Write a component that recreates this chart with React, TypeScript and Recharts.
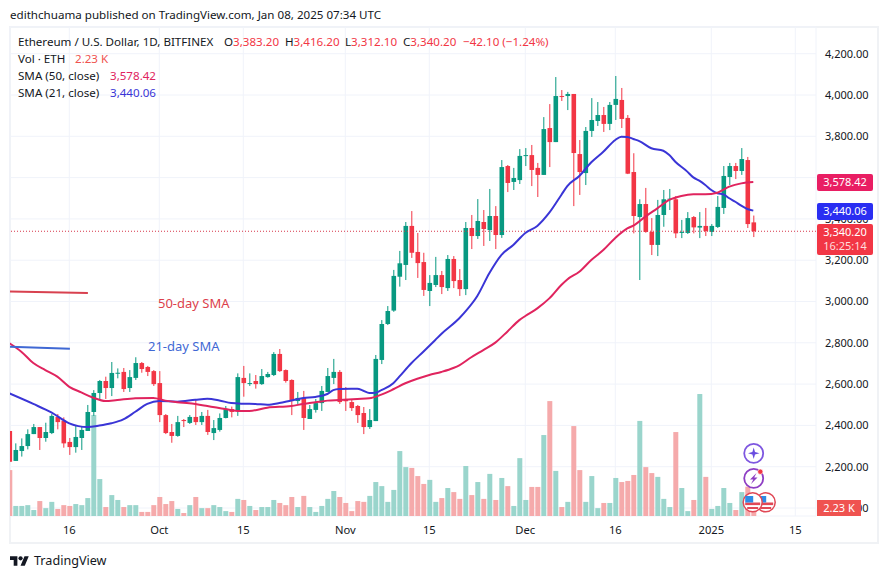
import {
  Bar,
  CartesianGrid,
  ComposedChart,
  Line,
  ReferenceLine,
  XAxis,
  YAxis,
} from "recharts";

// daily candles Sep 6 2024 .. Jan 8 2025 (ETH/USD)
const opens = [
  2373, 2228, 2276, 2300, 2358, 2392, 2339, 2363, 2441, 2423, 2320, 2295, 2339, 2373, 2465, 2557, 2615, 2581, 2652, 2659,
  2581, 2630, 2702, 2683, 2663, 2605, 2450, 2368, 2349, 2426, 2412, 2441, 2416, 2446, 2363, 2378, 2436, 2479, 2470, 2630,
  2602, 2615, 2600, 2634, 2644, 2746, 2668, 2620, 2518, 2533, 2431, 2475, 2508, 2562, 2630, 2659, 2528, 2513, 2494, 2460,
  2392, 2421, 2717, 2891, 2956, 3120, 3177, 3366, 3240, 3191, 3051, 3080, 3128, 3065, 3206, 3104, 3060, 3356, 3317, 3385,
  3346, 3414, 3322, 3656, 3579, 3588, 3706, 3709, 3647, 3613, 3840, 3772, 3995, 3995, 4005, 3714, 3622, 3826, 3874, 3903,
  3860, 3952, 3976, 3889, 3627, 3409, 3472, 3337, 3274, 3419, 3495, 3495, 3333, 3332, 3409, 3358, 3366, 3337, 3361, 3453,
  3603, 3656, 3632, 3685, 3383.2,
];
const highs = [
  2373, 2313, 2337, 2381, 2407, 2392, 2413, 2455, 2455, 2439, 2339, 2397, 2394, 2499, 2571, 2620, 2636, 2707, 2676, 2678,
  2668, 2730, 2707, 2688, 2668, 2663, 2455, 2407, 2446, 2431, 2450, 2523, 2465, 2475, 2426, 2458, 2494, 2491, 2652, 2688,
  2652, 2644, 2673, 2659, 2755, 2770, 2671, 2623, 2562, 2567, 2499, 2528, 2591, 2678, 2722, 2668, 2586, 2528, 2499, 2489,
  2479, 2741, 2910, 2978, 3153, 3245, 3385, 3438, 3332, 3236, 3128, 3216, 3148, 3225, 3220, 3157, 3385, 3419, 3496, 3443,
  3545, 3462, 3685, 3661, 3647, 3738, 3743, 3758, 3671, 3893, 3956, 4087, 4024, 4015, 4005, 3782, 3845, 3985, 3966, 3942,
  3966, 4092, 4034, 3903, 3718, 3495, 3550, 3404, 3492, 3540, 3545, 3511, 3395, 3433, 3414, 3433, 3453, 3375, 3511, 3656,
  3671, 3671, 3743, 3700, 3416.2,
];
const lows = [
  2224, 2228, 2249, 2284, 2358, 2281, 2321, 2358, 2381, 2292, 2257, 2268, 2281, 2373, 2446, 2523, 2528, 2542, 2628, 2562,
  2562, 2620, 2655, 2639, 2591, 2416, 2358, 2316, 2345, 2392, 2407, 2402, 2402, 2354, 2329, 2370, 2434, 2439, 2446, 2539,
  2591, 2578, 2596, 2631, 2639, 2659, 2607, 2450, 2504, 2378, 2431, 2462, 2470, 2562, 2600, 2504, 2470, 2470, 2412, 2358,
  2383, 2421, 2697, 2886, 2950, 3072, 3104, 3211, 3114, 3027, 2978, 3070, 3036, 3051, 3065, 3027, 3031, 3254, 3303, 3269,
  3293, 3254, 3308, 3530, 3540, 3569, 3656, 3559, 3506, 3613, 3651, 3772, 3971, 3927, 3462, 3516, 3564, 3797, 3850, 3821,
  3830, 3879, 3840, 3617, 3330, 3104, 3333, 3225, 3220, 3362, 3443, 3307, 3307, 3327, 3330, 3307, 3317, 3317, 3356, 3424,
  3564, 3593, 3613, 3356, 3312.1,
];
const closes = [
  2224, 2281, 2300, 2358, 2392, 2339, 2368, 2446, 2416, 2313, 2295, 2344, 2378, 2465, 2557, 2615, 2581, 2654, 2655, 2576,
  2634, 2702, 2673, 2659, 2600, 2450, 2363, 2349, 2416, 2421, 2441, 2416, 2446, 2368, 2387, 2436, 2479, 2465, 2634, 2605,
  2605, 2600, 2639, 2649, 2746, 2663, 2615, 2518, 2533, 2436, 2479, 2508, 2567, 2639, 2659, 2513, 2517, 2484, 2450, 2392,
  2426, 2722, 2891, 2954, 3124, 3185, 3366, 3236, 3186, 3056, 3090, 3128, 3070, 3206, 3099, 3060, 3356, 3317, 3390, 3351,
  3414, 3322, 3651, 3574, 3598, 3705, 3709, 3637, 3613, 3835, 3772, 3995, 3992, 4005, 3719, 3627, 3826, 3879, 3903, 3860,
  3952, 3981, 3884, 3619, 3414, 3472, 3337, 3274, 3419, 3495, 3498, 3330, 3337, 3404, 3359, 3366, 3341, 3366, 3458, 3608,
  3656, 3632, 3690, 3375, 3340.2,
];
// thousands of ETH
const volumes = [
  16.9, 3.7, 3.7, 4.0, 2.2, 5.5, 2.9, 5.2, 2.6, 4.0, 3.7, 4.4, 4.0, 6.6, 37.2, 13.6, 3.3, 7.7, 5.9, 3.3,
  4.0, 4.0, 1.5, 1.5, 4.0, 7.0, 4.4, 5.5, 2.6, 1.1, 4.0, 7.0, 2.9, 2.9, 4.0, 3.3, 1.8, 1.5, 6.3, 5.9,
  3.7, 2.2, 3.3, 3.3, 5.9, 4.8, 4.0, 7.0, 3.3, 7.4, 3.3, 1.5, 3.7, 6.3, 9.2, 7.0, 4.8, 1.8, 5.5, 5.2,
  7.4, 12.5, 11.0, 5.2, 9.6, 23.9, 18.0, 17.7, 14.7, 11.8, 13.3, 5.2, 6.6, 10.3, 8.8, 6.3, 18.4, 7.7, 12.5, 6.3,
  15.5, 5.9, 14.0, 11.0, 3.7, 21.3, 5.9, 10.7, 10.7, 29.8, 42.3, 16.6, 3.3, 5.2, 33.1, 16.9, 5.2, 14.7, 2.9, 4.8,
  4.8, 14.0, 12.5, 12.9, 15.1, 35.0, 18.0, 15.8, 14.4, 6.3, 3.3, 30.9, 10.3, 1.8, 5.9, 44.9, 14.4, 2.6, 3.7, 10.3,
  4.8, 2.2, 8.8, 10.8, 2.23,
];

// [day index, value] read along each moving average
const sma21Readings = [
  [0, 2555], [4, 2504], [7, 2463], [10, 2410], [13, 2392], [15, 2399], [17, 2410], [19, 2429], [21, 2466], [23, 2504],
  [25, 2518], [28, 2515], [31, 2524], [33, 2529], [35, 2521], [37, 2508], [39, 2505], [41, 2504], [43, 2500], [45, 2508],
  [47, 2521], [49, 2533], [51, 2538], [53, 2552], [54, 2571], [55, 2576], [57, 2578], [58, 2578], [59, 2568], [60, 2557],
  [61, 2558], [62, 2571], [64, 2604], [65, 2636], [67, 2701], [69, 2757], [71, 2814], [72, 2843], [75, 2919], [76, 2951],
  [78, 3027], [80, 3137], [82, 3225], [84, 3274], [86, 3332], [88, 3366], [90, 3430], [92, 3516], [93, 3559], [95, 3608],
  [97, 3674], [99, 3725], [101, 3782], [102, 3798], [103, 3797], [104, 3787], [105, 3777], [107, 3742], [109, 3730],
  [110, 3709], [111, 3677], [113, 3629], [114, 3601], [115, 3585], [116, 3564], [117, 3540], [118, 3524], [119, 3519],
  [120, 3500], [121, 3483], [122, 3464], [123, 3448], [124, 3440.06],
];
const sma50Readings = [
  [0, 2798], [2, 2757], [4, 2702], [6, 2668], [8, 2636], [10, 2587], [12, 2560], [14, 2534], [16, 2518], [18, 2523],
  [21, 2531], [24, 2533], [26, 2520], [28, 2512], [30, 2507], [33, 2494], [36, 2479], [38, 2470], [40, 2470], [43, 2486],
  [47, 2494], [49, 2504], [51, 2512], [53, 2520], [55, 2523], [58, 2528], [60, 2531], [62, 2549], [64, 2575], [66, 2604],
  [68, 2626], [70, 2644], [72, 2659], [74, 2678], [75, 2691], [77, 2730], [79, 2765], [81, 2801], [83, 2854], [85, 2910],
  [86, 2930], [88, 2967], [90, 3015], [92, 3080], [93, 3107], [95, 3144], [97, 3201], [99, 3249], [101, 3308], [103, 3354],
  [104, 3367], [106, 3411], [108, 3451], [110, 3492], [112, 3511], [114, 3519], [116, 3519], [118, 3527], [120, 3556],
  [122, 3572], [124, 3578.42],
];

const priceTicks = [2000, 2200, 2400, 2600, 2800, 3000, 3200, 3400, 3600, 3800, 4000, 4200];
const timeTicks = [10, 25, 39, 56, 70, 86, 101, 117, 131];
const timeLabels = ["16", "Oct", "15", "Nov", "15", "Dec", "16", "2025", "15"];

const UP = "#089981";
const DOWN = "#f23645";
const UP_VOL = "#9ad5cc";
const DOWN_VOL = "#f5aaab";
const SMA50 = "#e0245e";
const SMA21 = "#3a35d6";
const FONT = '"Noto Sans", sans-serif';

const sma21ByDay = new Map(sma21Readings.map(([d, v]) => [d, v]));
const sma50ByDay = new Map(sma50Readings.map(([d, v]) => [d, v]));

const rows = opens.map((o, i) => ({
  i,
  o,
  h: highs[i],
  l: lows[i],
  c: closes[i],
  range: [lows[i], highs[i]],
  vol: volumes[i],
  sma21: sma21ByDay.get(i) ?? null,
  sma50: sma50ByDay.get(i) ?? null,
}));

const Candle = (props: any) => {
  const { x, y, width, height, payload } = props;
  const { o, h, l, c } = payload;
  const k = height / (h - l || 1);
  const top = y + (h - Math.max(o, c)) * k;
  const bodyH = Math.max(1, Math.abs(o - c) * k);
  const color = c >= o ? UP : DOWN;
  const mid = x + width / 2;
  return (
    <g>
      <line x1={mid} x2={mid} y1={y} y2={y + height} stroke={color} strokeWidth={1} />
      <rect x={mid - 2.3} y={top} width={4.6} height={bodyH} fill={color} />
    </g>
  );
};

const VolumeBar = (props: any) => {
  const { x, y, width, height, payload } = props;
  return <rect x={x} y={y} width={width} height={height} fill={payload.c >= payload.o ? UP_VOL : DOWN_VOL} />;
};

const Txt = ({ x, y, color = "#131722", size = 11.6, children }: any) => (
  <div
    style={{
      position: "absolute",
      left: x,
      top: y - 10,
      lineHeight: "20px",
      fontSize: size,
      color,
      whiteSpace: "nowrap",
      fontFamily: FONT,
    }}
  >
    {children}
  </div>
);

const Tag = ({ top, height, width = 56, bg, radius = 2, children }: any) => (
  <div
    style={{
      position: "absolute",
      left: 817,
      top,
      width,
      height,
      background: bg,
      borderRadius: radius,
      color: "#fff",
      fontSize: 11,
      fontFamily: FONT,
      lineHeight: "15px",
      textAlign: "center",
    }}
  >
    {children}
  </div>
);

const Badges = () => (
  <svg width={888} height={579} style={{ position: "absolute", left: 0, top: 0, pointerEvents: "none" }}>
    <circle cx={753.7} cy={453.3} r={9.5} fill="#fff" stroke="#7e57e0" strokeWidth={1.8} />
    <path d="M753.7 447.5 L755 452 L759.5 453.3 L755 454.6 L753.7 459 L752.4 454.6 L748 453.3 L752.4 452 Z" fill="#6a4de0" />
    <circle cx={753.7} cy={478.3} r={9.5} fill="#fff" stroke="#8e3ec4" strokeWidth={1.8} />
    <path d="M756.5 473 L750 479.5 L753.3 479.5 L751 484 L757.5 477.5 L754.2 477.5 Z" fill="#8e3ec4" />
    <circle cx={760.3} cy={471.7} r={2.6} fill="#f23645" stroke="#fff" strokeWidth={0.6} />
    {[765.7, 752.7].map((cx) => (
      <g key={cx}>
        <circle cx={cx} cy={502.3} r={9.5} fill="#fff" stroke="#e04856" strokeWidth={1.5} />
        <rect x={cx - 7.5} y={502.5} width={15} height={2.6} fill="#e04856" />
        <rect x={cx - 5.5} y={507} width={11} height={2} fill="#e04856" />
        <rect x={cx - 7.5} y={496} width={8} height={6.5} fill="#2f8be6" />
      </g>
    ))}
  </svg>
);

const Logo = () => (
  <svg width={19} height={15} viewBox="0 0 36 28" style={{ position: "absolute", left: 10, top: 553.5 }}>
    <path d="M14 22H7V11H0V4h14v18zM28 22h-8l7.5-18h8L28 22z" fill="#131722" />
    <circle cx={20} cy={8} r={4} fill="#131722" />
  </svg>
);

export default function App() {
  return (
    <div style={{ position: "absolute", left: 0, top: 0, width: 888, height: 579, background: "#fff", overflow: "hidden" }}>
      <Txt x={10} y={15}>edithchuama published on TradingView.com, Jan 08, 2025 07:34 UTC</Txt>

      <div style={{ position: "absolute", left: 9, top: 26, width: 866, height: 514, border: "2px solid #f0f2f5" }} />

      <div style={{ position: "absolute", left: 0, top: 0 }}>
        <ComposedChart
          width={888}
          height={579}
          data={rows}
          margin={{ top: 27, right: 10, bottom: 36, left: 10 }}
          barSize={5}
          barGap={-5}
        >
          <CartesianGrid yAxisId="price" stroke="#f0f3fa" strokeWidth={1} />
          <XAxis
            dataKey="i"
            type="number"
            scale="linear"
            domain={[0.117, 134.45]}
            allowDataOverflow
            ticks={timeTicks}
            interval={0}
            height={27}
            tickFormatter={(v: number) => timeLabels[timeTicks.indexOf(v)]}
            axisLine={false}
            tickLine={false}
            tick={{ fontSize: 11.2, fill: "#131722", fontFamily: FONT }}
            tickMargin={4}
          />
          <YAxis
            yAxisId="price"
            orientation="right"
            width={62}
            domain={[1961.3, 4329.3]}
            allowDataOverflow
            ticks={priceTicks}
            interval={0}
            tickFormatter={(v: number) => v.toLocaleString("en-US", { minimumFractionDigits: 2 })}
            axisLine={false}
            tickLine={false}
            tick={{ fontSize: 11, fill: "#131722", fontFamily: FONT }}
            tickMargin={3}
          />
          <YAxis yAxisId="vol" hide domain={[0, 180]} allowDataOverflow />
          <Bar yAxisId="vol" dataKey="vol" shape={VolumeBar} isAnimationActive={false} />
          <ReferenceLine yAxisId="price" y={3340.2} stroke="#d6364a" strokeDasharray="1 2" strokeWidth={1} />
          <Line
            yAxisId="price"
            dataKey="sma21"
            type="monotone"
            connectNulls
            dot={false}
            stroke={SMA21}
            strokeWidth={2}
            isAnimationActive={false}
          />
          <Line
            yAxisId="price"
            dataKey="sma50"
            type="monotone"
            connectNulls
            dot={false}
            stroke={SMA50}
            strokeWidth={2}
            isAnimationActive={false}
          />
          <Bar yAxisId="price" dataKey="range" shape={Candle} isAnimationActive={false} />
          <ReferenceLine
            yAxisId="price"
            segment={[{ x: 0.12, y: 3048 }, { x: 13.1, y: 3041 }]}
            stroke="#d8414f"
            strokeWidth={2}
          />
          <ReferenceLine
            yAxisId="price"
            segment={[{ x: 0.12, y: 2781 }, { x: 10.1, y: 2771 }]}
            stroke="#3f68d4"
            strokeWidth={2}
          />
        </ComposedChart>
      </div>

      <Txt x={18} y={41.5}>
        Ethereum / U.S. Dollar, 1D, BITFINEX
      </Txt>
      <Txt x={224} y={41.5}>O<span style={{ color: DOWN }}>3,383.20</span></Txt>
      <Txt x={285} y={41.5}>H<span style={{ color: DOWN }}>3,416.20</span></Txt>
      <Txt x={345} y={41.5}>L<span style={{ color: DOWN }}>3,312.10</span></Txt>
      <Txt x={403} y={41.5}>C<span style={{ color: DOWN }}>3,340.20</span></Txt>
      <Txt x={463} y={41.5} color={DOWN}>−42.10 (−1.24%)</Txt>
      <Txt x={18} y={58.7}>Vol · ETH</Txt>
      <Txt x={75} y={58.7} color="#ef5350">2.23 K</Txt>
      <Txt x={18} y={76}>SMA (50, close)</Txt>
      <Txt x={110} y={76} color={SMA50}>3,578.42</Txt>
      <Txt x={18} y={93}>SMA (21, close)</Txt>
      <Txt x={110} y={93} color={SMA21}>3,440.06</Txt>

      <Txt x={158} y={303} color="#dc3f4c" size={13}>50-day SMA</Txt>
      <Txt x={148} y={346} color="#3f68d4" size={13}>21-day SMA</Txt>

      <Badges />

      <Tag top={174} height={16.5} bg="#e91e63">3,578.42</Tag>
      <Tag top={203} height={16.5} bg="#2a2ef2">3,440.06</Tag>
      <Tag top={224} height={30.5} bg={DOWN}>
        3,340.20
        <div style={{ color: "#fdd", marginTop: -1 }}>16:25:14</div>
      </Tag>
      <Tag top={500} height={16} width={44} bg="#ef5350" radius={0}>2.23 K</Tag>

      <Logo />
      <Txt x={34} y={561} size={12.6}>TradingView</Txt>
    </div>
  );
}
